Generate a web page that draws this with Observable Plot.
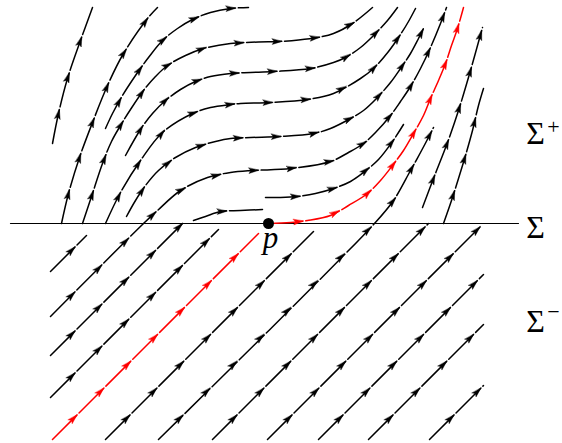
<!DOCTYPE html>
<html><head><meta charset="utf-8">
<script src="https://cdn.jsdelivr.net/npm/d3@7"></script>
<script src="https://cdn.jsdelivr.net/npm/@observablehq/plot@0.6"></script>
<style>body{margin:0;background:#fff}svg{display:block}</style>
</head><body><div id="chart"></div>
<script>
// Coordinates: p at (0,0); Σ is the line y = 0; y up.
// Σ− region: straight streamlines [x0, y0, x1, y1]
const lowerLines = [
  [-218, -48, -182, -12],
  [-218, -132, -86, 0],
  [-218, -174, -50, -6],
  [-163, -216, 45, -8],
  [-56, -216, 160, 0],
  [-1, -216, 213, -2],
  [50, -216, 215, -51],
  [100, -216, 215, -101],
  [161, -216, 215, -162]
];
// lower streamlines that cross Σ and continue as curves above it
const crossLower2 = [[-218, -93], [-125, 0]];
const crossUpper2 = [[-125,0],[-111,13],[-88,33],[-61,46],[-38,51],[-15,53],[22,55],[62,62],[80,71],[95,80],[107,91],[122,108],[132,122],[142,137],[152,155],[162,176],[172,200],[178,216]];
const crossLower7 = [[-110, -216], [106, 0]];
const crossUpper7 = [[106,0],[125,23],[142,53],[152,71],[162,90],[165,96]];

// Σ+ region streamlines
const curveA = [[-216,80],[-210,110],[-201,145],[-188,183],[-176,216]];
const curveB = [[-207,0],[-200,30],[-189,66],[-176,101],[-161,138],[-145,170],[-121,205],[-111,216]];
const curveC = [[-163,95],[-156,110],[-146,128],[-133,148],[-120,166],[-106,183],[-91,195],[-76,204],[-58,211],[-38,215],[-20,216]];
const curveD = [[-186,0],[-176,30],[-166,60],[-157,82],[-148,98],[-138,114],[-125,133],[-113,147],[-101,158],[-83,168],[-65,175],[-38,180],[-10,181.5],[10,182],[30,183.5],[49,186],[65,190],[84,200],[104,216]];
const curveE = [[-143,68],[-128,94],[-116,110],[-103,123],[-88,134],[-73,142],[-58,147],[-38,150],[-18,151],[5,152],[42,155],[65,161],[77,166],[92,176],[105,188],[119,203],[129,216]];
const curveF = [[-163,0],[-148,31],[-128,63],[-106,91],[-76,110],[-58,116],[-38,119],[-28,120],[2,121],[39,124],[65,130],[92,145],[105,155],[120,172],[132,189],[140,202],[147,215]];
const curveG = [[-142,7],[-133,23],[-123,38],[-110,53],[-93,66],[-73,76],[-53,82],[-38,85],[-18,86],[12,87],[45,90],[62,95],[82,105],[95,113],[107,124],[122,141],[132,155],[142,170],[150,185],[155,195]];
const curveI = [[-3,26],[12,26],[29,27],[47,30],[65,35],[82,42],[95,51],[110,64],[124,82],[135,99]];
const curveJ = [[-75,3],[-63,7],[-48,12],[-28,13],[-6,14]];
const curveL = [[154,16],[165,45],[179,81],[190,113],[202,153],[214,196]];
const curveM = [[175,0],[183,23],[190,45],[197,68],[204,93],[210,118],[215,135]];

// red orbit through p
const redLower = [[-216, -216], [-10, -10]];
const redUpper = [[0,0],[22,1],[39,3],[62,8],[80,18],[99,30],[112,43],[124,58],[135,73],[145,90],[155,108],[162,125],[170,143],[177,160],[183,178],[189,195],[195,216]];

const sigmaLine = [[-258, 0], [250, 0]];
const pointP = [[0, 0]];

const labelText = ["Σ", "Σ", "+", "Σ", "\u2212"];
const labelX = [267, 267, 285, 267, 285];
const labelY = [-3.8, 90.2, 96.7, -97.8, -88.6];
const labelSize = [32, 32, 22, 32, 22];
const pLabel = [{text: "p", x: 2, y: -14.8}];

// build streamline list
const blackStreams = [
  ...lowerLines.map(([a, b, c, d]) => [[a, b], [c, d]]),
  [...crossLower2, ...crossUpper2.slice(1)],
  [...crossLower7, ...crossUpper7.slice(1)],
  curveA, curveB, curveC, curveD, curveE, curveF, curveG, curveI, curveJ, curveL, curveM
];
const redStreams = [redLower, redUpper];

function toTable(streams) {
  const rows = [];
  streams.forEach((s, id) => s.forEach(([x, y]) => rows.push({id, x, y})));
  return rows;
}
function arrowsAlong(pts, first = 30, step = 38) {
  const out = [];
  let acc = 0, target = first, total = 0;
  for (let i = 1; i < pts.length; i++) total += Math.hypot(pts[i][0] - pts[i-1][0], pts[i][1] - pts[i-1][1]);
  for (let i = 1; i < pts.length; i++) {
    const [x0, y0] = pts[i-1], [x1, y1] = pts[i];
    const seg = Math.hypot(x1 - x0, y1 - y0);
    while (target <= acc + seg && target <= total - 4) {
      const t = (target - acc) / seg;
      out.push({x: x0 + t * (x1 - x0), y: y0 + t * (y1 - y0), angle: Math.atan2(x1 - x0, y1 - y0) * 180 / Math.PI});
      target += step;
    }
    acc += seg;
  }
  return out;
}
const head = {
  draw(context, l) {
    const w = 2.8;
    context.moveTo(0, -l);
    context.lineTo(w, 0);
    context.lineTo(0, -l * 0.2);
    context.lineTo(-w, 0);
    context.closePath();
  }
};

const blackArrows = blackStreams.flatMap(s => arrowsAlong(s));
const redArrows = redStreams.flatMap(s => arrowsAlong(s));
const labels = labelText.map((t, i) => ({text: t, x: labelX[i], y: labelY[i], size: labelSize[i]}));
const font = "'Liberation Serif', 'DejaVu Serif', serif";

const chart = Plot.plot({
  width: 562, height: 443, margin: 0,
  x: {domain: [-268, 294], axis: null},
  y: {domain: [-220, 223], axis: null},
  style: {background: "white"},
  marks: [
    Plot.line(sigmaLine, {x: d => d[0], y: d => d[1], stroke: "black", strokeWidth: 1.2}),
    Plot.line(toTable(blackStreams), {x: "x", y: "y", z: "id", stroke: "black", strokeWidth: 1.5, curve: "catmull-rom", strokeDasharray: "35,3", strokeDashoffset: 0.5}),
    Plot.vector(blackArrows, {x: "x", y: "y", rotate: "angle", length: 10, anchor: "middle", shape: head, fill: "black", stroke: "black", strokeWidth: 0.4}),
    Plot.line(toTable(redStreams), {x: "x", y: "y", z: "id", stroke: "red", strokeWidth: 1.5, curve: "catmull-rom", strokeDasharray: "35,3", strokeDashoffset: 0.5}),
    Plot.vector(redArrows, {x: "x", y: "y", rotate: "angle", length: 10, anchor: "middle", shape: head, fill: "red", stroke: "red", strokeWidth: 0.4}),
    Plot.dot(pointP, {x: d => d[0], y: d => d[1], r: 5.5, fill: "black", stroke: "none"}),
    ...labels.map(l => Plot.text([l], {x: "x", y: "y", text: "text", fontSize: l.size, fontFamily: font, fill: "black", textAnchor: "middle"})),
    Plot.text(pLabel, {x: "x", y: "y", text: "text", fontSize: 31, fontFamily: font, fontStyle: "italic", fill: "black", textAnchor: "middle"})
  ]
});
document.getElementById("chart").appendChild(chart);
</script>
</body></html>
